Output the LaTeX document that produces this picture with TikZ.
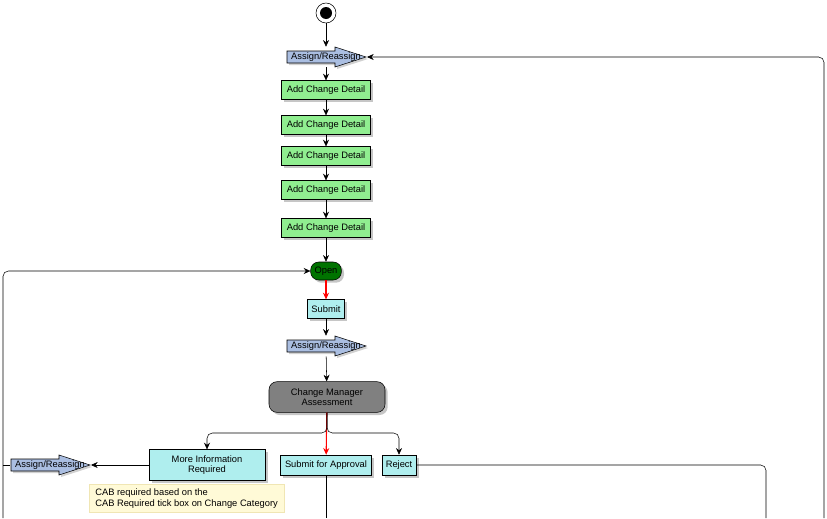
\documentclass[tikz,border=0pt]{standalone}
\usepackage{fontspec}
\setmainfont{Liberation Sans}
\usetikzlibrary{shadows,calc,arrows.meta}
\definecolor{asgc}{RGB}{170,190,225}
\definecolor{dgreen}{RGB}{0,115,0}
\definecolor{lgreen}{RGB}{144,238,144}
\definecolor{cyanb}{RGB}{175,238,238}
\definecolor{notec}{RGB}{255,250,215}
\definecolor{noted}{RGB}{240,230,180}
\begin{document}
\begin{tikzpicture}[x=0.75pt,y=-0.75pt,
  font=\fontsize{7}{8}\selectfont,
  shd/.style={drop shadow={opacity=0.45,shadow xshift=2pt,shadow yshift=-2pt,fill=gray}},
  act/.style={draw,fill=#1,shd,inner sep=0pt,minimum height=14pt,align=center},
  asg/.style={inner sep=0pt,minimum width=60pt,minimum height=15pt},
  con/.style={-{Stealth[length=5pt,width=4.5pt]},rounded corners=4pt},
  lnk/.style={rounded corners=4pt}]
\useasboundingbox (0,0) rectangle (827,518);
\newcommand{\asgshape}[1]{%
  \fill[gray!60,opacity=0.6] ($(#1.center)+(-37,-4)$) -- ++(48,0) -- ++(0,-4) -- ++(31,10) -- ++(-31,10) -- ++(0,-4) -- ++(-48,0) -- cycle;
  \draw[fill=asgc] ($(#1.center)+(-39,-6)$) -- ++(48,0) -- ++(0,-4) -- ++(31,10) -- ++(-31,10) -- ++(0,-4) -- ++(-48,0) -- cycle;}
% start
\node[circle,draw,minimum size=15pt,inner sep=0pt] (st) at (326,13) {};
\fill (st.center) circle[radius=6];
% assign nodes
\node[asg] (a1) at (326,57) {}; \asgshape{a1} \node at (a1) {Assign/Reassign};
\node[act=lgreen,minimum width=67pt] (d1) at (326,90) {Add Change Detail};
\node[act=lgreen,minimum width=67pt] (d2) at (326,125) {Add Change Detail};
\node[act=lgreen,minimum width=67pt] (d3) at (326,156) {Add Change Detail};
\node[act=lgreen,minimum width=67pt] (d4) at (326,190) {Add Change Detail};
\node[act=lgreen,minimum width=67pt] (d5) at (326,228) {Add Change Detail};
\node[act=dgreen,rounded corners=6pt,minimum width=23pt,minimum height=13.5pt] (op) at (326,271) {Open};
\node[act=cyanb,minimum width=28pt] (sb) at (326,309) {Submit};
\node[asg] (a2) at (326,346) {}; \asgshape{a2} \node at (a2) {Assign/Reassign};
\node[act=gray,rounded corners=6pt,minimum width=87pt,minimum height=23pt] (cm) at (327,397) {Change Manager\\Assessment};
\node[act=cyanb,minimum width=87pt,minimum height=23pt] (mi) at (207,465) {More Information\\Required};
\node[act=cyanb,minimum width=68pt,minimum height=15pt] (sa) at (326,465) {Submit for Approval};
\node[act=cyanb,minimum width=25.5pt,minimum height=15pt] (rj) at (399,465) {Reject};
\node[asg] (a3) at (50,465) {}; \asgshape{a3} \node at (a3) {Assign/Reassign};
\node[fill=notec,draw=noted,anchor=north west,minimum width=146pt,minimum height=21pt,inner xsep=3pt,inner ysep=1pt,align=left] (nt) at (89,484) {CAB required based on the\\CAB Required tick box on Change Category};
% connectors
\coordinate (a1e) at ($(a1.center)+(41,0)$);
\coordinate (a3e) at ($(a3.center)+(41,0)$);
\draw[con] (st) -- (a1);
\draw[con] (a1) -- (d1);
\draw[con] (d1) -- (d2);
\draw[con] (d2) -- (d3);
\draw[con] (d3) -- (d4);
\draw[con] (d4) -- (d5);
\draw[con] (d5) -- (op);
\draw[con,red,thick] (op) -- (sb);
\draw[con] (sb) -- (a2);
\draw[con] (a2) -- (cm);
\draw[con,red,thick] (cm) -- (sa);
\draw[con] (cm.south) |- (mi.north |- 0,433) -- (mi.north);
\draw[con] (cm.south) |- (rj.north |- 0,433) -- (rj.north);
\draw[con] (mi) -- (a3e);
\coordinate (lb) at (3,518); \coordinate (rb) at (824,518); \coordinate (mb) at (326,518); \coordinate (jb) at (766,518);
\draw[con] (lb) |- (op);
\draw[lnk] (a3.west) -- (3,465);
\draw[con] (rb) |- (a1e);
\draw (sa) -- (mb);
\draw[lnk] (rj) -| (jb);
\end{tikzpicture}
\end{document}
